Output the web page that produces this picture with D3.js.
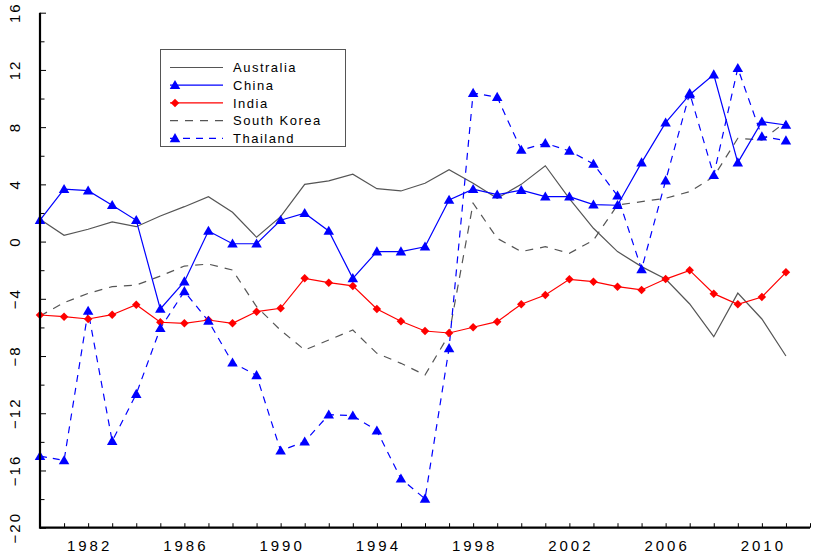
<!DOCTYPE html>
<html><head><meta charset="utf-8">
<script src="https://cdn.jsdelivr.net/npm/d3@7"></script>
<style>
body{margin:0;background:#fff;}
text{font-family:"Liberation Sans",Arial,sans-serif;}
</style></head>
<body><svg id="c" width="814" height="553"></svg>
<script>
const years = d3.range(1980, 2012);
const australia = [1.56,0.44,0.86,1.37,1.04,1.79,2.44,3.14,2.05,0.3,1.74,4.0,4.24,4.71,3.7,3.54,4.08,5.03,4.08,3.03,4.0,5.3,3.0,0.93,-0.7,-1.75,-2.62,-4.36,-6.65,-3.6,-5.41,-8.0];
const china = [1.5,3.66,3.56,2.54,1.49,-4.71,-2.8,0.74,-0.15,-0.15,1.49,1.98,0.74,-2.57,-0.7,-0.7,-0.36,2.91,3.66,3.28,3.59,3.14,3.14,2.58,2.54,5.52,8.31,10.27,11.67,5.52,8.38,8.15];
const india = [-5.13,-5.25,-5.41,-5.11,-4.41,-5.64,-5.71,-5.48,-5.71,-4.9,-4.66,-2.57,-2.87,-3.1,-4.71,-5.57,-6.25,-6.39,-5.99,-5.6,-4.38,-3.73,-2.64,-2.8,-3.15,-3.38,-2.62,-2.01,-3.64,-4.38,-3.87,-2.15];
const southKorea = [-5.2,-4.27,-3.62,-3.15,-3.04,-2.41,-1.71,-1.57,-1.99,-4.55,-6.2,-7.58,-6.88,-6.18,-7.81,-8.51,-9.33,-6.5,2.68,0.23,-0.7,-0.36,-0.82,0.1,2.56,2.79,3.03,3.49,4.54,7.22,7.1,8.38];
const thailand = [-15.0,-15.3,-4.85,-13.95,-10.66,-6.06,-3.48,-5.55,-8.47,-9.35,-14.62,-13.99,-12.1,-12.17,-13.22,-16.58,-17.98,-7.46,10.38,10.1,6.4,6.87,6.34,5.43,3.21,-1.94,4.26,10.37,4.64,12.12,7.34,7.06];
const seriesNames = ["Australia","China","India","South Korea","Thailand"];
const xLabelYears = [1982,1986,1990,1994,1998,2002,2006,2010];
const yLabelValues = [-20,-16,-12,-8,-4,0,4,8,12,16];

const svg = d3.select("#c");
const x = d3.scaleLinear().domain([1980,2012]).range([40,810]);
const y = d3.scaleLinear().domain([-20,16]).range([527.7,12.7]);

const styles = {
  "Australia":{data:australia,color:"#555",dash:null,marker:null},
  "China":{data:china,color:"#0000ff",dash:null,marker:"tri"},
  "India":{data:india,color:"#ff0000",dash:null,marker:"dia"},
  "South Korea":{data:southKorea,color:"#555",dash:"8,7",marker:null},
  "Thailand":{data:thailand,color:"#0000ff",dash:"7,6",marker:"tri"}
};
const triSym = d3.symbol().type(d3.symbolTriangle).size(48);
const diaSym = d3.symbol().type(d3.symbolSquare).size(36);

const line = d3.line().x((d,i)=>x(years[i])).y(d=>y(d));
const plot = svg.append("g");
["South Korea","Australia","India","Thailand","China"].forEach(name=>{
  const s = styles[name];
  plot.append("path").datum(s.data).attr("d",line)
    .attr("fill","none").attr("stroke",s.color).attr("stroke-width",1.2)
    .attr("stroke-dasharray",s.dash);
});
["India","Thailand","China"].forEach(name=>{
  const s = styles[name];
  plot.selectAll(null).data(s.data).enter().append("path")
    .attr("d", s.marker==="tri"?triSym:diaSym)
    .attr("transform",(d,i)=> s.marker==="tri" ? `translate(${x(years[i])},${y(d)+0.8})` : `translate(${x(years[i])},${y(d)}) rotate(45)`)
    .attr("fill",s.color);
});

// axes
const xAxis = d3.axisBottom(x).tickValues(d3.range(1980,2013)).tickSize(-4.5).tickFormat("");
const gx = svg.append("g").attr("transform","translate(0,527.7)").call(xAxis);
gx.select(".domain").attr("stroke","#000").attr("stroke-width",2.2).attr("d","M40,0H810");
gx.selectAll(".tick line").attr("stroke","#000").attr("stroke-width",1);
const yAxis = d3.axisLeft(y).tickValues(d3.range(-20,17,2)).tickSize(-4.5).tickFormat("");
const gy = svg.append("g").attr("transform","translate(40,0)").call(yAxis);
gy.select(".domain").attr("stroke","#000").attr("stroke-width",2.2).attr("d","M0,12.7V528.8");
gy.selectAll(".tick line").attr("stroke","#000").attr("stroke-width",1)
  .attr("x2",d=> d%4===0 ? 6 : 4.5);

svg.append("g").selectAll("text").data(xLabelYears).enter().append("text")
  .attr("x",d=>x(d)+1.5).attr("y",551).attr("text-anchor","middle")
  .attr("font-size",15).attr("letter-spacing",3).attr("fill","#000")
  .text(d=>d);
svg.append("g").selectAll("text").data(yLabelValues).enter().append("text")
  .attr("transform",d=>`translate(20,${y(d)}) rotate(-90)`)
  .attr("text-anchor","middle").attr("font-size",15).attr("letter-spacing",2).attr("fill","#000")
  .text(d=> d<0 ? "\u2212"+Math.abs(d) : d);

// legend
const lg = svg.append("g");
lg.append("rect").attr("x",160.5).attr("y",49.5).attr("width",185).attr("height",97)
  .attr("fill","#fff").attr("stroke","#555").attr("stroke-width",1);
seriesNames.forEach((name,i)=>{
  const s = styles[name];
  const yy = 67.5 + i*17.7;
  lg.append("line").attr("x1",170).attr("x2",223).attr("y1",yy).attr("y2",yy)
    .attr("stroke",s.color).attr("stroke-width",1.2).attr("stroke-dasharray",s.dash);
  if(s.marker){
    lg.append("path").attr("d", s.marker==="tri"?triSym:diaSym)
      .attr("transform", s.marker==="tri" ? `translate(175,${yy+0.8})` : `translate(175,${yy}) rotate(45)`)
      .attr("fill",s.color);
  }
  lg.append("text").attr("x",233).attr("y",yy+4.6).attr("font-size",13)
    .attr("letter-spacing",1.5).attr("fill","#000").text(name);
});
</script></body></html>
